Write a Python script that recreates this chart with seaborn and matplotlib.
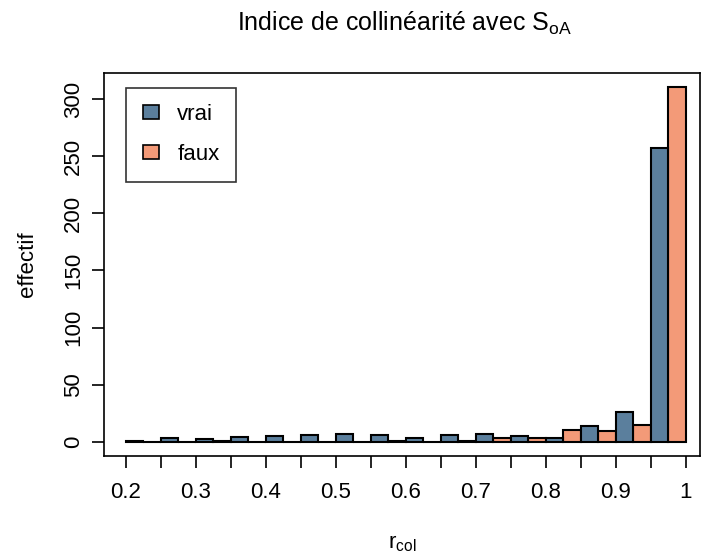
import numpy as np
import pandas as pd
import seaborn as sns
import matplotlib
matplotlib.use("Agg")
import matplotlib.pyplot as plt
from matplotlib.patches import Patch

# bin edges of r_col and counts per bin
bin_edges = [0.20, 0.25, 0.30, 0.35, 0.40, 0.45, 0.50, 0.55, 0.60,
             0.65, 0.70, 0.75, 0.80, 0.85, 0.90, 0.95, 1.00]
vrai = [1, 3, 2, 4, 5, 6, 7, 6, 3, 6, 7, 5, 3, 14, 26, 257]
faux = [0, 0, 1, 0, 0, 0, 0, 1, 0, 1, 3, 3, 10, 9, 15, 311]
groups = ["vrai", "faux"]
colors = {"vrai": "#5b7f9d", "faux": "#f39a78"}

centers = [(a + b) / 2 for a, b in zip(bin_edges[:-1], bin_edges[1:])]
df = pd.DataFrame({
    "r": centers * 2,
    "n": vrai + faux,
    "grp": ["vrai"] * len(vrai) + ["faux"] * len(faux),
})

sns.set_style("white")
plt.rcParams["font.family"] = ["Liberation Sans", "DejaVu Sans"]
plt.rcParams["text.color"] = "black"
plt.rcParams["axes.labelcolor"] = "black"
plt.rcParams["xtick.color"] = "black"
plt.rcParams["ytick.color"] = "black"

fs = 16
fig = plt.figure(figsize=(7.04, 5.56), dpi=100)
ax = fig.add_axes([0.1477, 0.18, 0.8466, 0.6888])

sns.histplot(df, x="r", weights="n", hue="grp", hue_order=groups,
             bins=bin_edges, multiple="dodge", shrink=1, palette=colors,
             alpha=1, edgecolor="black", linewidth=1.5, legend=False, ax=ax)

ax.set_xlim(0.1686, 1.02)
ax.set_ylim(-12.5, 323)
ax.set_xticks(bin_edges)
ax.set_xticklabels([f"{t:g}" if round(t * 100) % 10 == 0 else "" for t in bin_edges])
ax.set_yticks([0, 50, 100, 150, 200, 250, 300])
for lab in ax.get_yticklabels():
    lab.set_rotation(90)
    lab.set_va("center")
ax.tick_params(axis="both", direction="out", length=8.5, width=1.2,
               labelsize=fs, color="black", bottom=True, left=True)
ax.tick_params(axis="x", pad=10)
ax.tick_params(axis="y", pad=6)
for s in ax.spines.values():
    s.set_color("black")
    s.set_linewidth(1.2)

ax.set_xlabel(r"r$_\mathregular{col}$", fontsize=fs, labelpad=22)
ax.set_ylabel("effectif", fontsize=fs, labelpad=18)
fig.suptitle(r"Indice de collinéarité avec S$_\mathregular{oA}$",
             fontsize=18, x=0.575, y=0.982)

handles = [Patch(facecolor=colors[g], edgecolor="black", linewidth=1.2) for g in groups]
leg = ax.legend(handles, groups, loc="upper left", bbox_to_anchor=(0.037, 0.962),
                fontsize=fs, frameon=True, fancybox=False, handlelength=0.75,
                handleheight=0.6, handletextpad=0.8, labelspacing=0.85,
                borderpad=0.75, borderaxespad=0)
leg.get_frame().set_edgecolor("black")
leg.get_frame().set_linewidth(1.2)

fig.savefig("out.png", dpi=100)
